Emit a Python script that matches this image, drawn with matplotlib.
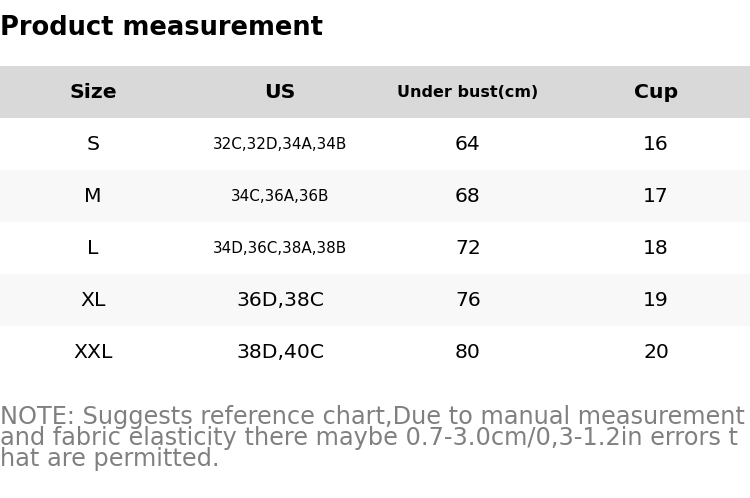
import matplotlib
matplotlib.use("Agg")
import matplotlib.pyplot as plt
from matplotlib.patches import Rectangle

title = "Product measurement"
headers = ["Size", "US", "Under bust(cm)", "Cup"]
sizes = ["S", "M", "L", "XL", "XXL"]
us = ["32C,32D,34A,34B", "34C,36A,36B", "34D,36C,38A,38B", "36D,38C", "38D,40C"]
under_bust = [64, 68, 72, 76, 80]
cup = [16, 17, 18, 19, 20]
note = ("NOTE: Suggests reference chart,Due to manual measurement\n"
        "and fabric elasticity there maybe 0.7-3.0cm/0,3-1.2in errors t\n"
        "hat are permitted.")

fig = plt.figure(figsize=(7.5, 4.98), dpi=100)
ax = fig.add_axes([0, 0, 1, 1])
ax.set_xlim(0, 750); ax.set_ylim(498, 0); ax.axis("off")

ax.text(0, 28, title, fontsize=18.5, fontweight="bold", va="center", ha="left")
ax.add_patch(Rectangle((0, 66), 750, 52, color="#d9d9d9", lw=0))
cx = [93, 280, 468, 656]
hsz = [14.7, 14.7, 11.5, 14.7]
for x, h, s in zip(cx, headers, hsz):
    ax.text(x, 92, h, fontsize=s, fontweight="bold", ha="center", va="center")
for i in range(len(sizes)):
    y0 = 118 + 52 * i
    if i % 2 == 1:
        ax.add_patch(Rectangle((0, y0), 750, 52, color="#f8f8f8", lw=0))
    yc = y0 + 26
    ax.text(cx[0], yc, sizes[i], fontsize=14.7, ha="center", va="center")
    ax.text(cx[1], yc, us[i], fontsize=10.9 if len(us[i]) > 10 else 14.7, ha="center", va="center")
    ax.text(cx[2], yc, str(under_bust[i]), fontsize=14.7, ha="center", va="center")
    ax.text(cx[3], yc, str(cup[i]), fontsize=14.7, ha="center", va="center")

ax.text(0, 438, note, fontsize=17.3, color="#808080", ha="left", va="center", linespacing=0.85)
fig.savefig("out.png", dpi=100)
